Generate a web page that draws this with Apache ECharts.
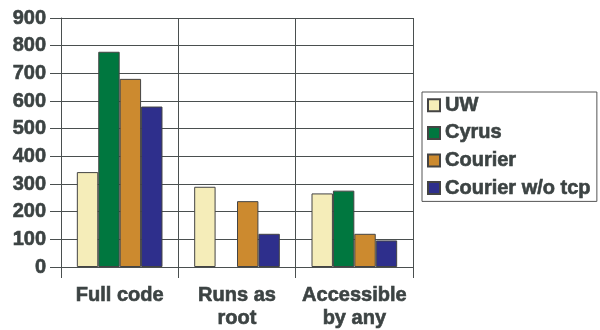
<!DOCTYPE html>
<html><head><meta charset="utf-8">
<script src="https://cdn.jsdelivr.net/npm/echarts@6/dist/echarts.min.js"></script>
<style>html,body{margin:0;padding:0;background:#fff}#c{width:600px;height:330px}</style>
</head><body><div id="c"></div>
<script>
const categories = ['Full code', 'Runs as\nroot', 'Accessible\nby any'];
const uw = [343, 290, 266];
const cyrus = [778, null, 276];
const courier = [680, 238, 120];
const courierNoTcp = [580, 120, 96];
const yTicks = [0, 900, 100];

const FONT = '"Liberation Sans", Arial, sans-serif';
const TXT = '#3c4343';
const LINE = '#4a4f4f';
const colors = ['#F5EDB9', '#00773F', '#CC8A2F', '#2E2F8C'];
const names = ['UW', 'Cyrus', 'Courier', 'Courier w/o tcp'];
const data = [uw, cyrus, courier, courierNoTcp];
const heavy = {textBorderColor: TXT, textBorderWidth: 0.6};

const chart = echarts.init(document.getElementById('c'), null, {renderer: 'canvas'});
chart.setOption({
  animation: false,
  backgroundColor: '#fff',
  grid: {left: 61, right: 187, top: 18, bottom: 61, containLabel: false},
  legend: {
    orient: 'vertical', left: 422, top: 92,
    padding: [3, 6, 3, 5],
    itemGap: 7, itemWidth: 12, itemHeight: 12,
    icon: 'rect',
    borderColor: '#555', borderWidth: 1,
    textStyle: Object.assign({fontFamily: FONT, fontWeight: 'bold', fontSize: 20, color: TXT, lineHeight: 20}, heavy),
    data: names
  },
  xAxis: {
    type: 'category', data: categories, boundaryGap: true,
    axisLine: {show: true, lineStyle: {color: LINE, width: 1}},
    axisTick: {show: true, length: 11, interval: 0, lineStyle: {color: LINE}},
    splitLine: {show: true, interval: 0, lineStyle: {color: LINE, width: 1}},
    axisLabel: Object.assign({interval: 0, margin: 17, fontFamily: FONT, fontWeight: 'bold', fontSize: 20, color: TXT, lineHeight: 23}, heavy)
  },
  yAxis: {
    type: 'value', min: yTicks[0], max: yTicks[1], interval: yTicks[2],
    axisLine: {show: true, lineStyle: {color: LINE, width: 1}},
    axisTick: {show: true, length: 11, lineStyle: {color: LINE}},
    splitLine: {show: true, lineStyle: {color: LINE, width: 1}},
    axisLabel: Object.assign({margin: 15, fontFamily: FONT, fontWeight: 'bold', fontSize: 20, color: TXT}, heavy)
  },
  series: names.map((n, i) => ({
    name: n, type: 'bar', data: data[i],
    barGap: '0%', barCategoryGap: '27%',
    itemStyle: {color: colors[i], borderColor: '#444', borderWidth: 1}
  }))
});
</script></body></html>
